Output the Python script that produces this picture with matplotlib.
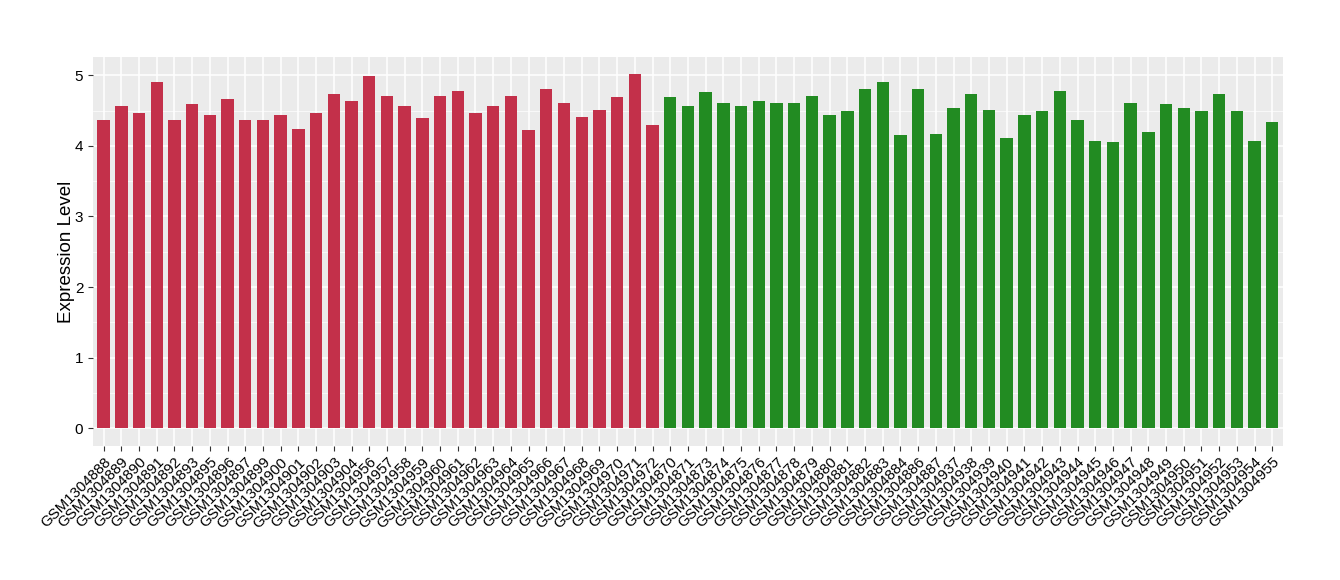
import numpy as np
import matplotlib
matplotlib.use('Agg')
import matplotlib.pyplot as plt
from matplotlib.ticker import MultipleLocator

plt.rcParams['font.family'] = ['Liberation Sans', 'DejaVu Sans']

# samples of group 1 (red) and group 2 (green)
red_samples = ['GSM1304888', 'GSM1304889', 'GSM1304890', 'GSM1304891', 'GSM1304892',
               'GSM1304893', 'GSM1304895', 'GSM1304896', 'GSM1304897', 'GSM1304899',
               'GSM1304900', 'GSM1304901', 'GSM1304902', 'GSM1304903', 'GSM1304904',
               'GSM1304956', 'GSM1304957', 'GSM1304958', 'GSM1304959', 'GSM1304960',
               'GSM1304961', 'GSM1304962', 'GSM1304963', 'GSM1304964', 'GSM1304965',
               'GSM1304966', 'GSM1304967', 'GSM1304968', 'GSM1304969', 'GSM1304970',
               'GSM1304971', 'GSM1304972']
red_values = [4.36, 4.57, 4.47, 4.90, 4.37, 4.59, 4.44, 4.67, 4.37, 4.37,
              4.44, 4.24, 4.46, 4.74, 4.64, 4.99, 4.70, 4.57, 4.40, 4.70,
              4.77, 4.47, 4.56, 4.70, 4.23, 4.81, 4.60, 4.41, 4.51, 4.69,
              5.01, 4.30]

green_samples = ['GSM1304870', 'GSM1304871', 'GSM1304873', 'GSM1304874', 'GSM1304875',
                 'GSM1304876', 'GSM1304877', 'GSM1304878', 'GSM1304879', 'GSM1304880',
                 'GSM1304881', 'GSM1304882', 'GSM1304883', 'GSM1304884', 'GSM1304886',
                 'GSM1304887', 'GSM1304937', 'GSM1304938', 'GSM1304939', 'GSM1304940',
                 'GSM1304941', 'GSM1304942', 'GSM1304943', 'GSM1304944', 'GSM1304945',
                 'GSM1304946', 'GSM1304947', 'GSM1304948', 'GSM1304949', 'GSM1304950',
                 'GSM1304951', 'GSM1304952', 'GSM1304953', 'GSM1304954', 'GSM1304955']
green_values = [4.69, 4.56, 4.76, 4.60, 4.57, 4.63, 4.61, 4.61, 4.71, 4.43,
                4.49, 4.81, 4.90, 4.16, 4.81, 4.17, 4.54, 4.74, 4.51, 4.11,
                4.44, 4.50, 4.77, 4.36, 4.07, 4.06, 4.60, 4.20, 4.59, 4.54,
                4.49, 4.74, 4.50, 4.07, 4.34]

samples = red_samples + green_samples
values = red_values + green_values
colors = ['#C3304A'] * len(red_samples) + ['#228B22'] * len(green_samples)

fig = plt.figure(figsize=(13.4, 5.8), dpi=100)
ax = fig.add_axes([0.0694, 0.231, 0.888, 0.671])
ax.set_facecolor('#EBEBEB')

x = np.arange(len(samples))
ax.bar(x, values, width=0.7, color=colors, zorder=3)

ax.set_xlim(-0.6, len(samples) - 0.4)
ax.set_ylim(-0.25, 5.26)
ax.yaxis.set_major_locator(MultipleLocator(1))
ax.yaxis.set_minor_locator(MultipleLocator(0.5))
ax.grid(which='major', color='white', linewidth=1.1, zorder=0)
ax.grid(which='minor', axis='y', color='white', linewidth=0.5, zorder=0)
ax.set_axisbelow(True)
for s in ax.spines.values():
    s.set_visible(False)

ax.set_xticks(x)
ax.set_xticklabels(samples, rotation=45, ha='right', rotation_mode='anchor',
                   fontsize=10.8, color='black')
ax.tick_params(axis='both', which='major', length=3.5, color='#333333', width=0.8)
ax.tick_params(axis='y', which='minor', length=0)
ax.tick_params(axis='y', labelsize=11, labelcolor='black')
ax.tick_params(axis='x', pad=3)

ax.set_ylabel('Expression Level', fontsize=13.5, labelpad=0)

fig.savefig('out.png', dpi=100)
